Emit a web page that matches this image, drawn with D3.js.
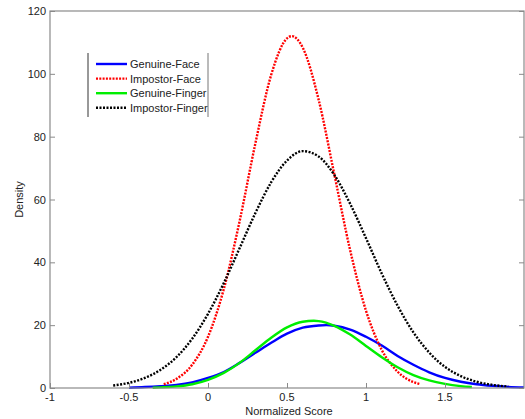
<!DOCTYPE html>
<html>
<head>
<meta charset="utf-8">
<script src="https://cdn.jsdelivr.net/npm/d3@7"></script>
<style>
  body { margin: 0; background: #fff; }
  svg { display: block; font-family: Arial, "Liberation Sans", sans-serif; }
</style>
</head>
<body>
<script>
// density vs normalized score
let genuineFaceX = [-0.5, -0.4, -0.3, -0.2, -0.1, 0, 0.1, 0.2, 0.3, 0.4, 0.5, 0.6, 0.7, 0.75, 0.8, 0.9, 1.0, 1.1, 1.2, 1.3, 1.4, 1.5, 1.6, 1.7, 1.8, 1.9, 2.0]
let genuineFaceY = [0.1, 0.3, 0.6, 1.0, 1.8, 3.2, 5.1, 8.0, 11.2, 14.4, 17.3, 19.2, 19.9, 20.0, 19.8, 18.6, 16.3, 13.5, 10.2, 7.4, 5.0, 3.2, 2.0, 1.2, 0.7, 0.35, 0.15]

let impostorFaceX = [-0.28, -0.2, -0.1, 0, 0.1, 0.2, 0.3, 0.4, 0.5, 0.53, 0.6, 0.7, 0.8, 0.9, 1.0, 1.1, 1.2, 1.3, 1.34]
let impostorFaceY = [1.2, 2.9, 7.4, 16.3, 31.5, 53.1, 77.9, 99.7, 111.3, 112, 108.3, 91.8, 67.9, 43.8, 24.6, 12.1, 5.2, 1.9, 1.3]

let genuineFingerX = [-0.35, -0.3, -0.2, -0.1, 0, 0.1, 0.2, 0.3, 0.4, 0.5, 0.6, 0.67, 0.7, 0.8, 0.9, 1.0, 1.1, 1.2, 1.3, 1.4, 1.5, 1.6, 1.67]
let genuineFingerY = [0.1, 0.2, 0.5, 1.2, 2.6, 4.8, 8.0, 12.0, 16.0, 19.3, 21.1, 21.4, 21.3, 19.8, 17.0, 13.4, 9.8, 6.6, 4.1, 2.4, 1.3, 0.6, 0.3]

let impostorFingerX = [-0.6, -0.5, -0.4, -0.3, -0.2, -0.1, 0, 0.1, 0.2, 0.3, 0.4, 0.5, 0.6, 0.7, 0.8, 0.9, 1.0, 1.1, 1.2, 1.3, 1.4, 1.5, 1.6, 1.7, 1.8, 1.9]
let impostorFingerY = [0.8, 1.65, 3.2, 5.8, 9.8, 15.7, 23.6, 33.4, 44.5, 55.7, 65.5, 72.4, 75.4, 73.7, 67.8, 58.6, 47.7, 36.4, 26.2, 17.7, 11.3, 6.7, 3.8, 2.0, 1.0, 0.46]

let xTicks = [-1, -0.5, 0, 0.5, 1, 1.5]
let yTicks = [0, 20, 40, 60, 80, 100, 120]

let series = [
    { name: "Genuine-Face", xs: genuineFaceX, ys: genuineFaceY, color: "#0000ff", dash: null },
    { name: "Impostor-Face", xs: impostorFaceX, ys: impostorFaceY, color: "#ff0000", dash: "2,1.3" },
    { name: "Genuine-Finger", xs: genuineFingerX, ys: genuineFingerY, color: "#00ee00", dash: null },
    { name: "Impostor-Finger", xs: impostorFingerX, ys: impostorFingerY, color: "#000000", dash: "2,1.5" }
]

let width = 525
let height = 419
let margin = { top: 11, right: 1, bottom: 31, left: 50 }
let axisColor = "#8a8a8a"

let svg = d3.select("body").append("svg")
    .attr("width", width)
    .attr("height", height)

let x = d3.scaleLinear().domain([-1, 2]).range([margin.left, width - margin.right])
let y = d3.scaleLinear().domain([0, 120]).range([height - margin.bottom, margin.top])

// curves
let line = d3.line()
    .x(d => x(d[0]))
    .y(d => y(d[1]))
    .curve(d3.curveMonotoneX)

series.forEach(s => {
    let pts = s.xs.map((v, i) => [v, s.ys[i]])
    svg.append("path")
        .attr("d", line(pts))
        .attr("fill", "none")
        .attr("stroke", s.color)
        .attr("stroke-width", 2.4)
        .attr("stroke-dasharray", s.dash)
})

// frame
let x0 = x.range()[0], x1 = x.range()[1]
let y0 = y.range()[0], y1 = y.range()[1]
svg.append("rect")
    .attr("x", x0).attr("y", y1)
    .attr("width", x1 - x0).attr("height", y0 - y1)
    .attr("fill", "none")
    .attr("stroke", axisColor)
    .attr("stroke-width", 1.2)

// left axis, ticks inside
let yAxis = svg.append("g")
    .attr("transform", "translate(" + x0 + ",0)")
    .call(d3.axisRight(y).tickValues(yTicks).tickSize(5).tickFormat(""))
yAxis.select(".domain").remove()
yAxis.selectAll("line").attr("stroke", axisColor)

let yAxisR = svg.append("g")
    .attr("transform", "translate(" + x1 + ",0)")
    .call(d3.axisLeft(y).tickValues(yTicks).tickSize(5).tickFormat(""))
yAxisR.select(".domain").remove()
yAxisR.selectAll("line").attr("stroke", axisColor)

svg.selectAll(".ylab").data(yTicks).enter().append("text")
    .attr("class", "ylab")
    .attr("x", x0 - 4)
    .attr("y", d => y(d) + 4)
    .attr("text-anchor", "end")
    .attr("font-size", 11)
    .attr("fill", "#222")
    .text(d => d)

// bottom axis, ticks inside
let xAxis = svg.append("g")
    .attr("transform", "translate(0," + y0 + ")")
    .call(d3.axisTop(x).tickValues(xTicks).tickSize(5).tickFormat(""))
xAxis.select(".domain").remove()
xAxis.selectAll("line").attr("stroke", axisColor)

svg.selectAll(".xlab").data(xTicks).enter().append("text")
    .attr("class", "xlab")
    .attr("x", d => x(d))
    .attr("y", y0 + 13)
    .attr("text-anchor", "middle")
    .attr("font-size", 11)
    .attr("fill", "#222")
    .text(d => d)

svg.append("text")
    .attr("x", (x0 + x1) / 2 + 2)
    .attr("y", height - 4)
    .attr("text-anchor", "middle")
    .attr("font-size", 11)
    .attr("fill", "#222")
    .text("Normalized Score")

svg.append("text")
    .attr("transform", "translate(23," + ((y0 + y1) / 2) + ") rotate(-90)")
    .attr("text-anchor", "middle")
    .attr("font-size", 11)
    .attr("fill", "#222")
    .text("Density")

// legend
let lg = svg.append("g")
lg.append("line").attr("x1", 88).attr("x2", 88).attr("y1", 53).attr("y2", 117)
    .attr("stroke", "#333").attr("stroke-width", 1)
lg.append("line").attr("x1", 208).attr("x2", 208).attr("y1", 53).attr("y2", 117)
    .attr("stroke", "#777").attr("stroke-width", 1)

series.forEach((s, i) => {
    let ly = 64 + i * 14.6
    lg.append("line")
        .attr("x1", 96).attr("x2", 127)
        .attr("y1", ly).attr("y2", ly)
        .attr("stroke", s.color)
        .attr("stroke-width", 2.4)
        .attr("stroke-dasharray", s.dash)
    lg.append("text")
        .attr("x", 130)
        .attr("y", ly + 4)
        .attr("font-size", 11)
        .attr("fill", "#222")
        .text(s.name)
})
</script>
</body>
</html>
